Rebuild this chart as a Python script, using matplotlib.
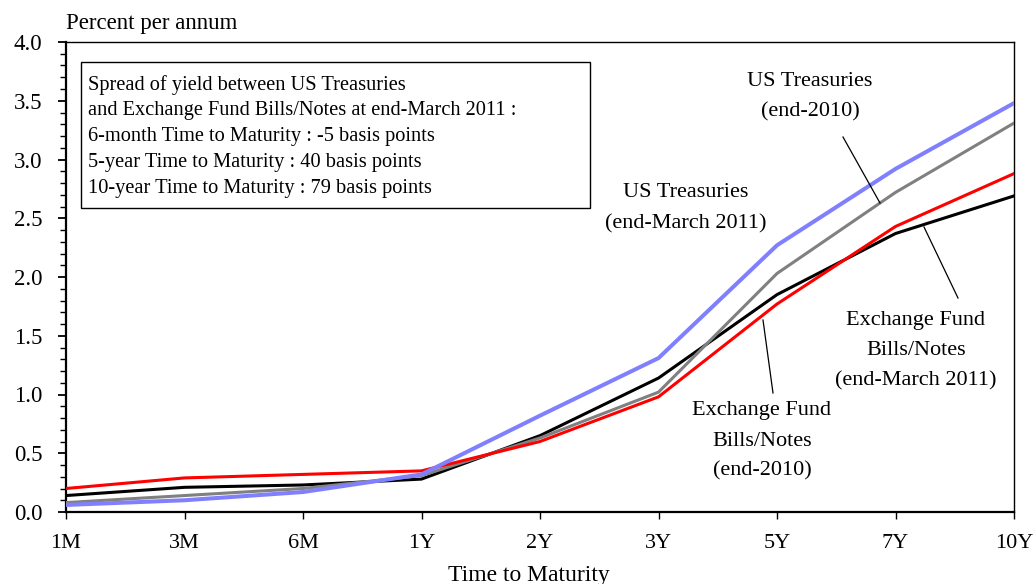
import matplotlib
matplotlib.use("Agg")
import matplotlib.pyplot as plt
from matplotlib.ticker import MultipleLocator, FormatStrFormatter
from matplotlib.patches import Rectangle
from matplotlib.lines import Line2D

plt.rcParams['font.family'] = ['Liberation Serif', 'DejaVu Serif']

categories = ["1M", "3M", "6M", "1Y", "2Y", "3Y", "5Y", "7Y", "10Y"]
us_mar2011 = [0.06, 0.10, 0.17, 0.32, 0.82, 1.31, 2.27, 2.92, 3.48]
us_end2010 = [0.08, 0.14, 0.20, 0.31, 0.63, 1.02, 2.03, 2.72, 3.31]
ef_mar2011 = [0.20, 0.29, 0.32, 0.35, 0.60, 0.98, 1.77, 2.43, 2.88]
ef_end2010 = [0.14, 0.21, 0.23, 0.28, 0.65, 1.14, 1.85, 2.37, 2.69]

box_lines = [
    "Spread of yield between US Treasuries",
    "and Exchange Fund Bills/Notes at end-March 2011 :",
    "6-month Time to Maturity : -5 basis points",
    "5-year Time to Maturity : 40 basis points",
    "10-year Time to Maturity : 79 basis points",
]

W, H = 1034, 584
fig = plt.figure(figsize=(W / 100, H / 100), dpi=100)
ax = fig.add_axes([66 / W, 1 - 512 / H, (1014 - 66) / W, (512 - 42) / H])

x = list(range(len(categories)))
ax.plot(x, ef_end2010, color='black', lw=2.2, zorder=3)
ax.plot(x, us_end2010, color='#808080', lw=2.2, zorder=3)
ax.plot(x, ef_mar2011, color='#FF0000', lw=2.2, zorder=4)
ax.plot(x, us_mar2011, color='#8080FF', lw=2.9, zorder=5)

ax.set_xlim(0, len(categories) - 1)
ax.set_ylim(0, 4.0)
ax.set_xticks(x)
ax.set_xticklabels(categories, fontsize=16)
ax.yaxis.set_major_locator(MultipleLocator(0.5))
ax.yaxis.set_minor_locator(MultipleLocator(0.1))
ax.yaxis.set_major_formatter(FormatStrFormatter('%.1f'))
ax.tick_params(axis='y', which='major', direction='out', length=6, width=1.3,
               labelsize=16.5, pad=11)
ax.tick_params(axis='y', which='minor', direction='out', length=4.5, width=1.0)
ax.tick_params(axis='x', which='major', direction='out', length=5, width=1.0,
               labelsize=16, pad=10.5)
for s in ['left', 'bottom']:
    ax.spines[s].set_linewidth(1.6)
for s in ['top', 'right']:
    ax.spines[s].set_linewidth(1.0)

def px(xp, yp):
    return (xp / W, 1 - yp / H)

fig.text(*px(66, 29), "Percent per annum", fontsize=16.5, ha='left', va='baseline')
fig.text(*px(529, 581), "Time to Maturity", fontsize=17, ha='center', va='baseline')

# text box
bx0, by0, bx1, by1 = 81, 62, 590, 208
fig.patches.append(Rectangle(px(bx0, by1), (bx1 - bx0) / W, (by1 - by0) / H,
                             transform=fig.transFigure, fill=False,
                             edgecolor='black', lw=1.0, zorder=10))
for i, line in enumerate(box_lines):
    fig.text(*px(88, 85 + i * 25.8), line, fontsize=14.7, ha='left', va='center')

# annotations
fs = 16
fig.text(*px(810, 81), "US Treasuries", fontsize=fs, ha='center', va='center')
fig.text(*px(810, 112), "(end-2010)", fontsize=fs, ha='center', va='center')
fig.text(*px(686, 193), "US Treasuries", fontsize=fs, ha='center', va='center')
fig.text(*px(686, 224), "(end-March 2011)", fontsize=fs, ha='center', va='center')
for i, t in enumerate(["Exchange Fund", "Bills/Notes", "(end-March 2011)"]):
    fig.text(*px(916, 320 + i * 30.5), t, fontsize=fs, ha='center', va='center')
for i, t in enumerate(["Exchange Fund", "Bills/Notes", "(end-2010)"]):
    fig.text(*px(762, 411 + i * 30), t, fontsize=fs, ha='center', va='center')

def leader(x0, y0, x1, y1):
    fig.lines.append(Line2D([x0 / W, x1 / W], [1 - y0 / H, 1 - y1 / H],
                            transform=fig.transFigure, color='black', lw=0.9))

leader(843, 137, 880, 203)
leader(924, 227, 958, 298)
leader(763, 320, 773, 393)

fig.savefig("out.png", dpi=100)
